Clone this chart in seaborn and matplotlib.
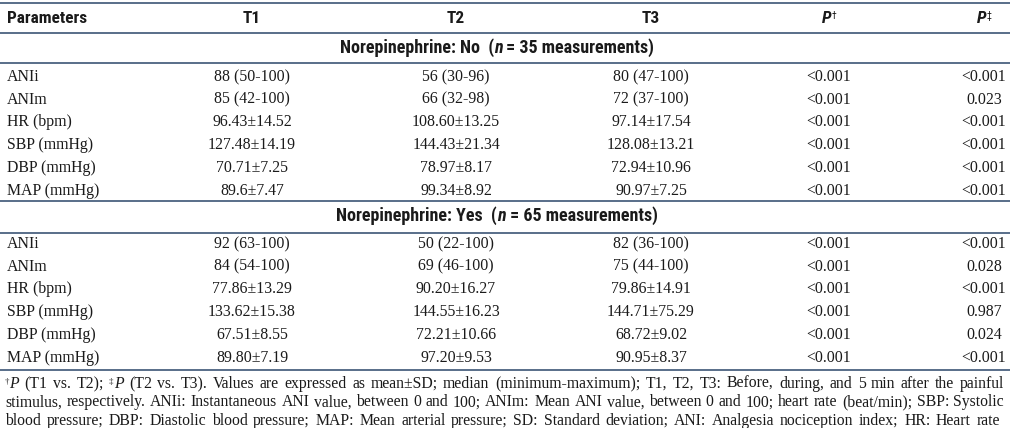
import matplotlib
matplotlib.use("Agg")
import matplotlib.pyplot as plt
import seaborn as sns
from matplotlib.font_manager import FontProperties, fontManager

# table content
headers = ["Parameters", "T1", "T2", "T3", "P", "P"]
header_marks = ["", "", "", "", "\u2020", "\u2021"]
parameters = ["ANIi", "ANIm", "HR (bpm)", "SBP (mmHg)", "DBP (mmHg)", "MAP (mmHg)"]
group_names = ["No", "Yes"]
group_n = [35, 65]

no_t1 = ["88 (50-100)", "85 (42-100)", "96.43\u00b114.52", "127.48\u00b114.19", "70.71\u00b17.25", "89.6\u00b17.47"]
no_t2 = ["56 (30-96)", "66 (32-98)", "108.60\u00b113.25", "144.43\u00b121.34", "78.97\u00b18.17", "99.34\u00b18.92"]
no_t3 = ["80 (47-100)", "72 (37-100)", "97.14\u00b117.54", "128.08\u00b113.21", "72.94\u00b110.96", "90.97\u00b17.25"]
no_p1 = ["<0.001", "<0.001", "<0.001", "<0.001", "<0.001", "<0.001"]
no_p2 = ["<0.001", "0.023", "<0.001", "<0.001", "<0.001", "<0.001"]

yes_t1 = ["92 (63-100)", "84 (54-100)", "77.86\u00b113.29", "133.62\u00b115.38", "67.51\u00b18.55", "89.80\u00b17.19"]
yes_t2 = ["50 (22-100)", "69 (46-100)", "90.20\u00b116.27", "144.55\u00b116.23", "72.21\u00b110.66", "97.20\u00b19.53"]
yes_t3 = ["82 (36-100)", "75 (44-100)", "79.86\u00b114.91", "144.71\u00b175.29", "68.72\u00b19.02", "90.95\u00b18.37"]
yes_p1 = ["<0.001", "<0.001", "<0.001", "<0.001", "<0.001", "<0.001"]
yes_p2 = ["<0.001", "0.028", "<0.001", "0.987", "0.024", "<0.001"]

footnotes = [
    "\u2020P (T1 vs. T2); \u2021P (T2 vs. T3). Values are expressed as mean\u00b1SD; median (minimum-maximum); T1, T2, T3: Before, during, and 5 min after the painful",
    "stimulus, respectively. ANIi: Instantaneous ANI value, between 0 and 100; ANIm: Mean ANI value, between 0 and 100; heart rate (beat/min); SBP: Systolic",
    "blood pressure; DBP: Diastolic blood pressure; MAP: Mean arterial pressure; SD: Standard deviation; ANI: Analgesia nociception index; HR: Heart rate",
]

sns.set_style("white")

W, H = 1010, 428
fig = plt.figure(figsize=(W / 100, H / 100), dpi=100)
ax = fig.add_axes([0, 0, 1, 1])
ax.set_xlim(0, W)
ax.set_ylim(H, 0)
ax.axis("off")
renderer = fig.canvas.get_renderer()

# pick a narrow sans for the header if one is installed
names = {f.name for f in fontManager.ttflist}
narrow = [n for n in ["Liberation Sans Narrow", "Roboto Condensed", "Open Sans Condensed"] if n in names]
head_family = narrow + ["Liberation Sans", "DejaVu Sans"]
head_size = 12.4 if narrow else 10.2
sect_size = 13.0 if narrow else 10.6

line_color = "#2b4669"
text_color = "#1a1a1a"
serif_family = ["Liberation Serif", "DejaVu Serif"]
serif = FontProperties(family=serif_family, size=11.4)
foot = FontProperties(family=serif_family, size=11.3)
foot_it = FontProperties(family=serif_family, style="italic", size=11.3)
foot_sup = FontProperties(family=serif_family, size=6.5)
head = FontProperties(family=head_family, weight="bold", size=head_size)
head_it = FontProperties(family=head_family, weight="bold", style="italic", size=head_size)
head_sup = FontProperties(family=head_family, size=7)
sect = FontProperties(family=head_family, weight="bold", size=sect_size)
sect_it = FontProperties(family=head_family, weight="bold", style="italic", size=sect_size)


def width_of(s, fp):
    t = ax.text(0, 0, s, fontproperties=fp)
    w = t.get_window_extent(renderer).width
    t.remove()
    return w


def rich(x, y, pieces, ha="left"):
    # pieces: (text, props, raise_px); y is the baseline
    widths = [width_of(s, fp) for s, fp, _ in pieces]
    if ha == "center":
        x = x - sum(widths) / 2
    for (s, fp, dy), w in zip(pieces, widths):
        ax.text(x, y - dy, s, fontproperties=fp, va="baseline", ha="left", color=text_color)
        x += w
    return x


def justify(x0, x1, y, words):
    widths = [sum(width_of(s, fp) for s, fp, _ in wd) for wd in words]
    gap = (x1 - x0 - sum(widths)) / (len(words) - 1)
    x = x0
    for wd, w in zip(words, widths):
        rich(x, y, wd)
        x += w + gap


# rules
for yy in [2.5, 33, 63, 201, 233, 370]:
    ax.axhline(yy, color=line_color, lw=1.1)

col_x = [7, 252, 456, 651, 829, 984]

# header row
ax.text(col_x[0], 18, headers[0], fontproperties=head, va="center", ha="left", color=text_color)
for cx, h, m in zip(col_x[1:], headers[1:], header_marks[1:]):
    if m:
        rich(cx, 23, [(h, head_it, 0), (m, head_sup, 4)], ha="center")
    else:
        ax.text(cx, 18, h, fontproperties=head, va="center", ha="center", color=text_color)

groups = [
    (no_t1, no_t2, no_t3, no_p1, no_p2),
    (yes_t1, yes_t2, yes_t3, yes_p1, yes_p2),
]
section_y = [48, 216]
first_row_y = [77, 244]
row_step = 22.7

for gname, n, sy, ry, cols in zip(group_names, group_n, section_y, first_row_y, groups):
    rich(W / 2 - 8, sy + 5, [
        (f"Norepinephrine: {gname}  (", sect, 0),
        ("n", sect_it, 0),
        (f" = {n} measurements)", sect, 0),
    ], ha="center")
    for i, p in enumerate(parameters):
        y = ry + i * row_step
        ax.text(col_x[0], y, p, fontproperties=serif, va="center", ha="left", color=text_color)
        for cx, vals in zip(col_x[1:], cols):
            ax.text(cx, y, vals[i], fontproperties=serif, va="center", ha="center", color=text_color)

# footnote, justified like the source
foot_y = [388, 406.5, 425]
for k, (line, fy) in enumerate(zip(footnotes, foot_y)):
    words = []
    for tok in line.split(" "):
        if tok and tok[0] in "\u2020\u2021":
            words.append([(tok[0], foot_sup, 4), ("P", foot_it, 0), (tok[2:], foot, 0)])
        else:
            words.append([(tok, foot, 0)])
    justify(5, 1004 if k < 2 else 1000, fy, words)

fig.savefig("out.png", dpi=100)
